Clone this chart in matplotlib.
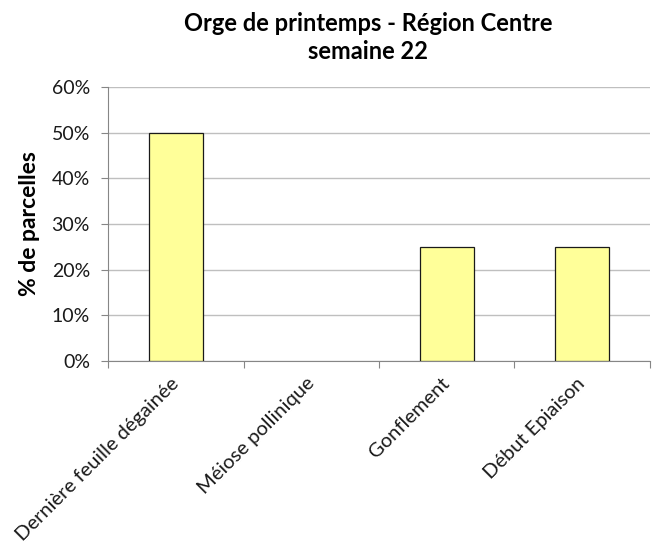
import matplotlib.pyplot as plt
from matplotlib.ticker import PercentFormatter

plt.rcParams['font.family'] = ['Lato', 'DejaVu Sans']

# Data
stades = ['Dernière feuille dégainée', 'Méiose pollinique', 'Gonflement', 'Début Epiaison']
parcelles = [0.50, 0.0, 0.25, 0.25]
yticks = [0, 0.1, 0.2, 0.3, 0.4, 0.5, 0.6]

fig = plt.figure(figsize=(6.57, 5.46), dpi=100)
ax = fig.add_axes([0.1644, 0.3388, 0.9893 - 0.1644, 0.8407 - 0.3388])

x = range(len(stades))
# empty categories get no outline (nothing drawn in the original)
lw = [0.9 if v > 0 else 0 for v in parcelles]
ax.bar(x, parcelles, width=0.4, color='#FFFF99', edgecolor='#1a1a1a', linewidth=lw, zorder=3)

ax.set_xlim(-0.5, len(stades) - 0.5)
ax.set_ylim(0, 0.6)
ax.set_yticks(yticks)
ax.yaxis.set_major_formatter(PercentFormatter(1.0, decimals=0))
ax.grid(axis='y', color='#BFBFBF', linewidth=1, zorder=0)

# x ticks at category boundaries, labels at centres
ax.set_xticks([i - 0.5 for i in range(len(stades) + 1)])
ax.set_xticklabels([])
ax.set_xticks(list(x), minor=True)
ax.set_xticklabels(stades, minor=True, rotation=45, ha='right', va='center',
                   rotation_mode='anchor', fontsize=14.5, color='#1a1a1a')
ax.tick_params(axis='x', which='minor', length=0, pad=14)
ax.tick_params(axis='x', which='major', length=5, color='#868686')
ax.tick_params(axis='y', length=5, color='#868686', labelsize=14, labelcolor='#1a1a1a', pad=8)

for s in ['top', 'right']:
    ax.spines[s].set_visible(False)
for s in ['left', 'bottom']:
    ax.spines[s].set_color('#868686')

ax.set_ylabel('% de parcelles', fontsize=16.5, fontweight='bold', labelpad=8)
fig.text(0.56, 0.932, 'Orge de printemps - Région Centre\nsemaine 22', ha='center', va='center',
         fontsize=17, fontweight='bold', linespacing=1.25)

fig.savefig('out.png', dpi=100)
